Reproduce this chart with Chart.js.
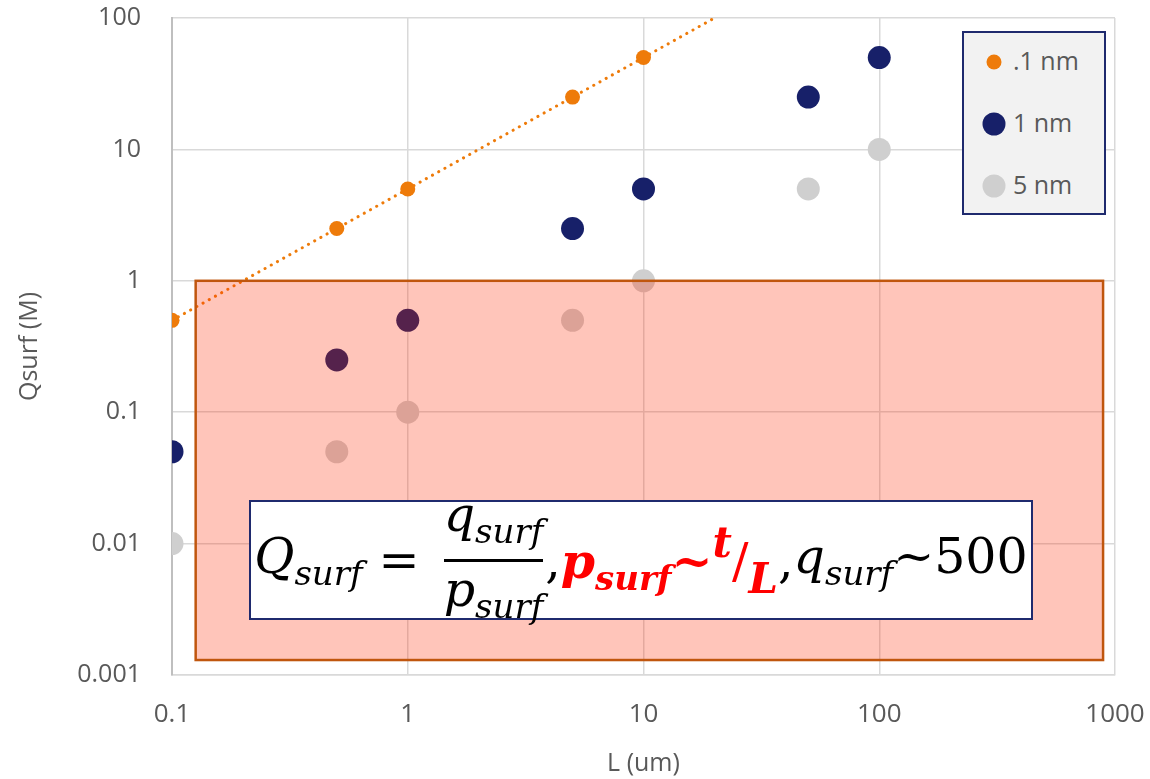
<!DOCTYPE html>
<html>
<head>
<meta charset="utf-8">
<script src="https://cdn.jsdelivr.net/npm/chart.js@4.4.0/dist/chart.umd.min.js"></script>
<style>
  html, body { margin: 0; padding: 0; background: #fff; }
  #wrap { position: relative; width: 1150px; height: 779px; }
  #legend {
    position: absolute; left: 962px; top: 31px; width: 140px; height: 180px;
    background: #f2f2f2; border: 2px solid #1f2a6e;
    font-family: "Open Sans", sans-serif; font-size: 25px; color: #595959;
  }
  .item { position: absolute; left: 0; height: 30px; line-height: 30px; }
  .item .dot { position: absolute; border-radius: 50%; top: 50%; transform: translate(-50%, -50%); }
  .item span.t { position: absolute; left: 49px; top: -2px; white-space: nowrap; }
  #formula {
    position: absolute; left: 249px; top: 500px; width: 780px; height: 116px;
    background: #fff; border: 2px solid #1f2a6e;
    font-family: "DejaVu Serif", serif; font-style: italic; font-size: 49px; color: #000;
    display: flex; align-items: center; justify-content: center; white-space: nowrap;
  }
  #formula sub { font-size: 34px; vertical-align: -0.35em; }
  #formula sup { font-size: 42px; vertical-align: 0.5em; }
  .up { font-style: normal; }
  .frac { display: inline-flex; flex-direction: column; align-items: center; margin: 0 2px 0 24px; }
  .frac .bar { width: 100%; height: 3px; background: #000; margin: 1px 0; }
  .frac > span { line-height: 54px; }
  .red { color: #ff0000; font-weight: bold; }
</style>
</head>
<body>
<div id="wrap">
  <canvas id="c" width="1150" height="779"></canvas>
  <div id="legend"></div>
  <div id="formula">
    <span>Q<sub>surf</sub></span>
    <span class="up" style="margin-left:16px">=</span>
    <span class="frac"><span>q<sub>surf</sub></span><span class="bar"></span><span>p<sub>surf</sub></span></span>
    <span class="up">,</span>
    <span class="red">p<sub>surf</sub><span class="up">~</span><sup>t</sup><span class="up" style="font-weight:normal">/</span><sub style="font-size:42px">L</sub></span>
    <span class="up">,</span>
    <span>q<sub>surf</sub><span class="up">~500</span></span>
  </div>
</div>
<script>
const xOrange = [0.1, 0.5, 1, 5, 10];
const yOrange = [0.5, 2.5, 5, 25, 50];
const xBlue = [0.1, 0.5, 1, 5, 10, 50, 100];
const yBlue = [0.05, 0.25, 0.5, 2.5, 5, 25, 50];
const xGray = [0.1, 0.5, 1, 5, 10, 50, 100];
const yGray = [0.01, 0.05, 0.1, 0.5, 1, 5, 10];
const xTicks = [0.1, 1, 10, 100, 1000];
const yTicks = [0.001, 0.01, 0.1, 1, 10, 100];
const regionX = [0.126, 890];
const regionY = [0.0013, 1];
const seriesNames = [".1 nm", "1 nm", "5 nm"];
const seriesColors = ["#ee7b0a", "#172069", "#cfcfcf"];

const pts = (xs, ys) => xs.map((x, i) => ({ x: x, y: ys[i] }));

// power trendline for the .1 nm series (least squares on logs)
function powerFit(xs, ys) {
  const lx = xs.map(Math.log10), ly = ys.map(Math.log10);
  const n = lx.length;
  const mx = lx.reduce((a, b) => a + b, 0) / n, my = ly.reduce((a, b) => a + b, 0) / n;
  let sxy = 0, sxx = 0;
  for (let i = 0; i < n; i++) { sxy += (lx[i] - mx) * (ly[i] - my); sxx += (lx[i] - mx) ** 2; }
  const b = sxy / sxx, a = my - b * mx;
  return (x) => Math.pow(10, a + b * Math.log10(x));
}
const fit = powerFit(xOrange, yOrange);
const trendX = [xTicks[0], xTicks[xTicks.length - 1]];

const regionPlugin = {
  id: "region",
  afterDatasetsDraw(chart) {
    const { ctx, scales: { x, y } } = chart;
    const l = x.getPixelForValue(regionX[0]), r = x.getPixelForValue(regionX[1]);
    const t = y.getPixelForValue(regionY[1]), b = y.getPixelForValue(regionY[0]);
    ctx.save();
    ctx.fillStyle = "rgba(255,42,0,0.27)";
    ctx.fillRect(l, t, r - l, b - t);
    ctx.strokeStyle = "#c0560e";
    ctx.lineWidth = 2.5;
    ctx.strokeRect(l, t, r - l, b - t);
    ctx.restore();
  }
};

const yFont = { family: "'Open Sans', sans-serif", size: 25 };
const xFont = { family: "'Open Sans', sans-serif", size: 26 };

const chart = new Chart(document.getElementById("c"), {
  type: "scatter",
  data: {
    datasets: [
      { label: seriesNames[0], data: pts(xOrange, yOrange), backgroundColor: seriesColors[0], borderWidth: 0, pointRadius: 7.5 },
      { label: seriesNames[1], data: pts(xBlue, yBlue), backgroundColor: seriesColors[1], borderWidth: 0, pointRadius: 11.5 },
      { label: seriesNames[2], data: pts(xGray, yGray), backgroundColor: seriesColors[2], borderWidth: 0, pointRadius: 11.5 },
      { label: "trend", type: "line", data: trendX.map((x) => ({ x: x, y: fit(x) })), borderColor: seriesColors[0],
        borderWidth: 3, borderDash: [0.1, 7], borderCapStyle: "round", pointRadius: 0, showLine: true, fill: false }
    ]
  },
  options: {
    responsive: false,
    animation: false,
    layout: { padding: { top: 18, right: 35, left: 0, bottom: 0 } },
    plugins: { legend: { display: false }, tooltip: { enabled: false } },
    scales: {
      x: {
        type: "logarithmic", min: 0.1, max: 1000,
        afterBuildTicks: (s) => { s.ticks = xTicks.map((v) => ({ value: v })); },
        afterFit: (s) => { s.height = 104; s.paddingLeft = 0; s.paddingRight = 0; },
        ticks: { callback: (v) => String(v), color: "#595959", font: xFont, padding: 24, maxRotation: 0, autoSkip: false },
        grid: { color: "#d9d9d9", lineWidth: 1.5, drawTicks: false },
        border: { color: "#d9d9d9", width: 1.5 },
        title: { display: true, text: "L (um)", color: "#595959", font: yFont, padding: { top: 0, bottom: 0 } }
      },
      y: {
        type: "logarithmic", min: 0.001, max: 100,
        afterBuildTicks: (s) => { s.ticks = yTicks.map((v) => ({ value: v })); },
        afterFit: (s) => { s.width = 172; s.paddingTop = 0; s.paddingBottom = 0; },
        ticks: { callback: (v) => String(v), color: "#595959", font: yFont, padding: 31, autoSkip: false },
        grid: { color: "#d9d9d9", lineWidth: 1.5, drawTicks: false },
        border: { color: "#bfbfbf", width: 2 },
        title: { display: true, text: "Qsurf (M)", color: "#595959", font: yFont, padding: { top: 15, bottom: 0 } }
      }
    }
  },
  plugins: [regionPlugin]
});

// nudge the layout padding so the plot area lands where the reference has it
const target = { top: 18, right: 1115 };
for (let k = 0; k < 3; k++) {
  const pad = chart.config.options.layout.padding;
  pad.top += target.top - chart.chartArea.top;
  pad.right += chart.chartArea.right - target.right;
  chart.update("none");
}

// legend entries
const legend = document.getElementById("legend");
const dotSizes = [15, 23, 23];
seriesNames.forEach((name, i) => {
  const item = document.createElement("div");
  item.className = "item";
  item.style.top = (14 + i * 62) + "px";
  item.innerHTML = '<div class="dot" style="left:30px;width:' + dotSizes[i] + 'px;height:' + dotSizes[i] +
    'px;background:' + seriesColors[i] + '"></div><span class="t">' + name + '</span>';
  legend.appendChild(item);
});
</script>
</body>
</html>
